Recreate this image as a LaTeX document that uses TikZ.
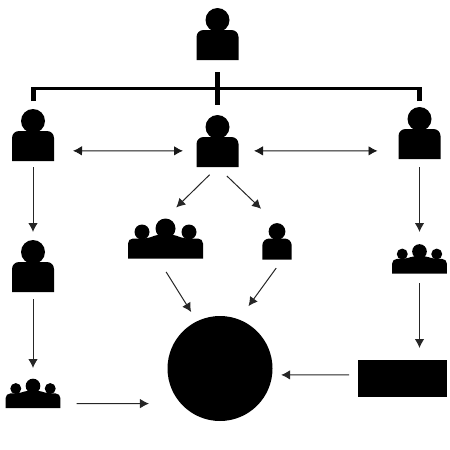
\documentclass[tikz,border=0pt]{standalone}
\usepackage{tikz}
\usetikzlibrary{arrows.meta,positioning}

\tikzset{
  person/.pic={
    \fill (0,-40) circle (12);
    \fill (-21,0) [rounded corners=7pt] -- (-21,-30) -- (21,-30) [sharp corners] -- (21,0) -- cycle;
  },
  crowd/.pic={
    \fill (-23.5,-26.5) circle (7.5);
    \fill (23.5,-26.5) circle (7.5);
    \fill (0,-30) circle (10);
    \fill (-37.5,0) [rounded corners=5pt] -- (-37.5,-20) -- (-18,-20) -- (-8,-24) -- (8,-24) -- (18,-20) -- (37.5,-20) [sharp corners] -- (37.5,0) -- cycle;
  },
  iconbox/.style={minimum width=#1,inner sep=0pt,outer sep=0pt},
  flowb/.style={->,draw=black!85,line width=1pt},
  twoway/.style={<->,draw=black!90,line width=0.9pt},
  trunk/.style={line width=5pt,draw=black},
  bar/.style={line width=3.5pt,draw=black,line cap=square},
}

\begin{document}
\begin{tikzpicture}[x=1pt,y=-1pt,>={Latex[length=9pt,width=9.5pt]}]
  \useasboundingbox (0,0) rectangle (450,450);

  % Single people, full size.
  \foreach \name/\x/\y/\h in {boss/217.5/34/52,left/33/135/52,mid/217.5/141.5/51,right/419.5/133.25/51.5,leftb/33/266.5/51}
    {\node[iconbox=42pt,minimum height=\h pt] (\name) at (\x,\y) {};
     \pic at (\name.south) {person};}

  % Smaller person and the groups.
  \node[iconbox=29.5pt,minimum height=35.5pt] (aide) at (277,241.75) {};
  \pic[scale=0.7] at (aide.south) {person};
  \node[iconbox=75pt,minimum height=40.5pt] (team) at (165.5,238.25) {};
  \pic at (team.south) {crowd};
  \node[iconbox=55pt,minimum height=30pt] (teamr) at (419.5,258.5) {};
  \pic[scale=0.733] at (teamr.south) {crowd};
  \node[iconbox=55pt,minimum height=30pt] (teaml) at (33,393) {};
  \pic[scale=0.733] at (teaml.south) {crowd};

  % Solid shapes.
  \node[circle,fill=black,minimum size=105pt,inner sep=0pt,outer sep=0pt] (hub) at (220,368.5) {};
  \node[fill=black,minimum width=89pt,minimum height=37pt,inner sep=0pt,outer sep=0pt] (block) at (402,378) {};

  % Heavy bracket under the top person.
  \coordinate (joint) at (217.5,88.5);
  \draw[bar] (left.north |- joint) -- (right.north |- joint);
  \draw[trunk,shorten <=12pt,shorten >=11pt] (boss.south) -- (mid.north);
  \draw[trunk,shorten <=8pt,shorten >=-1.75pt] (left.north) -- (left.north |- joint);
  \draw[trunk,shorten <=6.5pt,shorten >=-1.75pt] (right.north) -- (right.north |- joint);

  % Two-way arrows.
  \draw[twoway,shorten <=19pt,shorten >=13.5pt] (left.-37.3) -- (mid.204.3);
  \draw[twoway,shorten <=15.5pt,shorten >=21pt] (mid.-24.3) -- (right.220.2);

  % One-way arrows.
  \draw[flowb,shorten <=6pt,shorten >=9pt] (left.south) -- (leftb.north);
  \draw[flowb,shorten <=7pt,shorten >=10pt] (leftb.south) -- (teaml.north);
  \draw[flowb,shorten <=8pt,shorten >=11.5pt] (right.south) -- (teamr.north);
  \draw[flowb,shorten <=9.5pt,shorten >=11.5pt] (teamr.south) -- (teamr.south |- block.north);
  \draw[flowb,shorten <=11pt,shorten >=15pt] (mid.south) -- (team.north);
  \draw[flowb,shorten <=13pt,shorten >=22pt] (mid.south) -- (aide.north);
  \draw[flowb,shorten <=15.9pt,shorten >=11pt] (team.-111) -- (hub.116.1);
  \draw[flowb,shorten <=10.6pt,shorten >=16.5pt] (aide.-73.4) -- (hub.69.7);
  \draw[flowb,shorten <=16pt,shorten >=32pt] (teaml.-21.8) -- (hub.222.5);
  \draw[flowb,shorten <=8.5pt,shorten >=9pt] (block.176.1) -- (hub.-7.1);
\end{tikzpicture}
\end{document}
